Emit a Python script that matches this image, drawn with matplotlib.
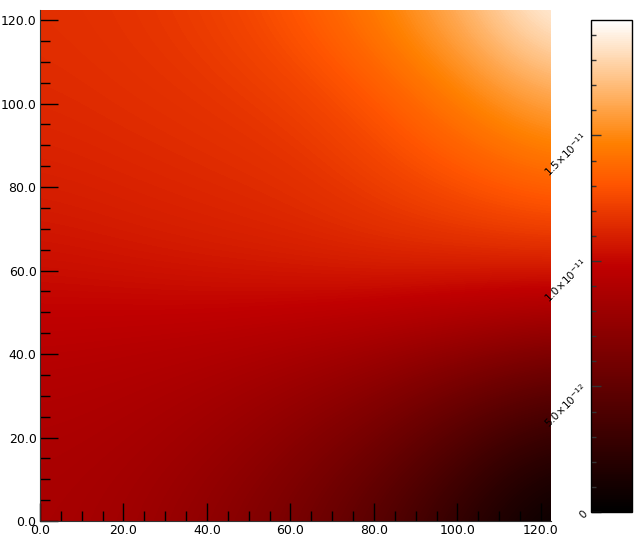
import numpy as np
import matplotlib
matplotlib.use("Agg")
import matplotlib.pyplot as plt
from matplotlib.ticker import MultipleLocator, FormatStrFormatter, FixedLocator

# grid coordinates (data units)
x_coords = [0, 20.4, 40.8, 61.2, 81.6, 102.0, 122.4]
y_coords = [0, 20.4, 40.8, 61.2, 81.6, 102.0, 122.4]
vmax = 1.96e-11

# values (fraction of vmax), rows = y from bottom to top
row_y0   = [0.44, 0.42, 0.37, 0.31, 0.22, 0.11, 0.00]
row_y20  = [0.45, 0.44, 0.41, 0.36, 0.30, 0.21, 0.13]
row_y40  = [0.48, 0.47, 0.46, 0.44, 0.41, 0.37, 0.33]
row_y60  = [0.53, 0.54, 0.55, 0.56, 0.57, 0.57, 0.57]
row_y80  = [0.56, 0.57, 0.58, 0.59, 0.62, 0.66, 0.70]
row_y100 = [0.58, 0.59, 0.60, 0.62, 0.67, 0.75, 0.83]
row_y120 = [0.59, 0.60, 0.62, 0.67, 0.75, 0.86, 1.00]

cbar_ticks = [0, 5e-12, 1e-11, 1.5e-11]
cbar_labels = ["0", r"$5.0{\times}10^{-12}$", r"$1.0{\times}10^{-11}$", r"$1.5{\times}10^{-11}$"]

Z = np.array([row_y0, row_y20, row_y40, row_y60, row_y80, row_y100, row_y120]) * vmax

fig = plt.figure(figsize=(6.42, 5.42), dpi=100)
ax = fig.add_axes([40/642, 1-521/542, 511/642, 511/542])
dx = (x_coords[1]-x_coords[0])/2
dy = (y_coords[1]-y_coords[0])/2
im = ax.imshow(Z, origin='lower', cmap='gist_heat', vmin=0, vmax=vmax,
               interpolation='bicubic', aspect='auto',
               extent=[x_coords[0]-dx, x_coords[-1]+dx, y_coords[0]-dy, y_coords[-1]+dy])
ax.set_xlim(x_coords[0], x_coords[-1])
ax.set_ylim(y_coords[0], y_coords[-1])
ax.xaxis.set_major_locator(MultipleLocator(20))
ax.xaxis.set_minor_locator(MultipleLocator(5))
ax.yaxis.set_major_locator(MultipleLocator(20))
ax.yaxis.set_minor_locator(MultipleLocator(5))
ax.xaxis.set_major_formatter(FormatStrFormatter('%.1f'))
ax.yaxis.set_major_formatter(FormatStrFormatter('%.1f'))
ax.tick_params(which='both', direction='in', color='black', top=False, right=False, labelsize=9)
ax.tick_params(which='major', length=13, width=1.0, pad=2.5)
ax.tick_params(which='minor', length=7, width=1.0)
for s in ['top', 'right']:
    ax.spines[s].set_visible(False)
for s in ['left', 'bottom']:
    ax.spines[s].set_linewidth(0.8)
    ax.spines[s].set_color('#333333')

cax = fig.add_axes([591/642, 1-512/542, 41/642, 492/542])
cb = fig.colorbar(im, cax=cax)
cb.outline.set_linewidth(1.0)
cax.yaxis.set_ticks_position('left')
cax.yaxis.set_label_position('left')
cb.set_ticks(cbar_ticks)
cb.set_ticklabels(cbar_labels)
cax.yaxis.set_minor_locator(FixedLocator(np.arange(0, vmax, 1e-12)))
cax.tick_params(which='both', direction='in', color='#333333')
cax.tick_params(which='major', length=7, width=1.0, labelsize=7.5, pad=4)
cax.tick_params(which='minor', length=3.5, width=1.0)
for lab in cax.get_yticklabels():
    lab.set_rotation(45)
    lab.set_rotation_mode('anchor')
    lab.set_ha('right')
    lab.set_va('center')

fig.savefig('out.png', dpi=100)
